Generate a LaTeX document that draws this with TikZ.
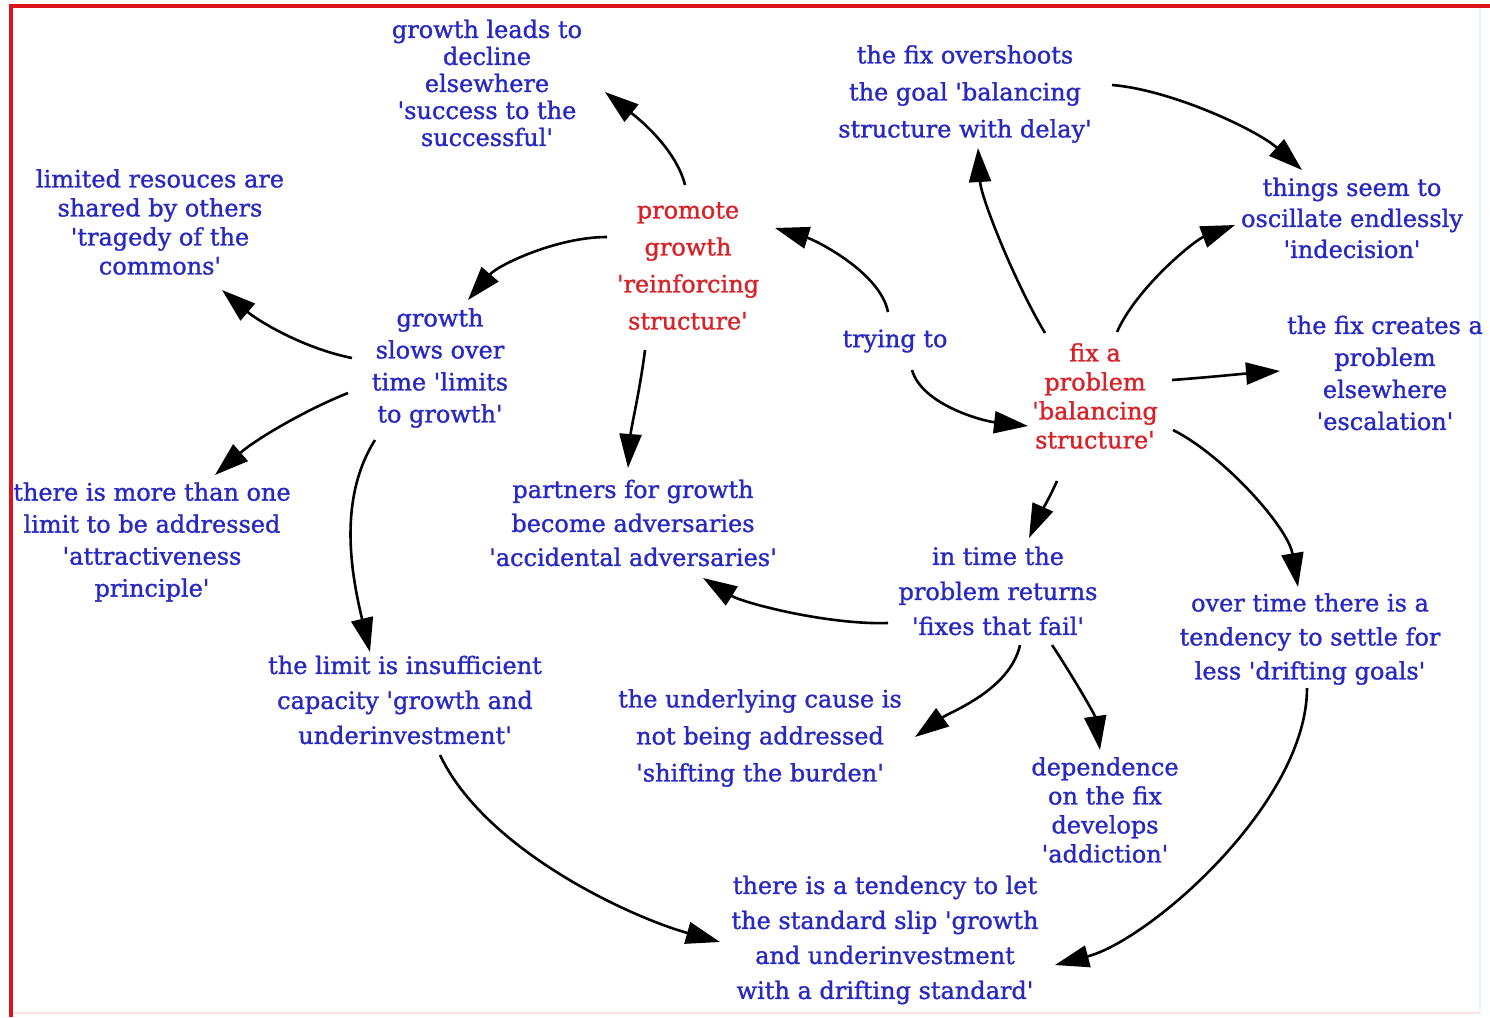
\documentclass[tikz,border=0pt]{standalone}
\usepackage{fontspec}
\setmainfont{DejaVu Serif}[Ligatures=TeXOff]
\newfontfamily\diagfont{DejaVu Serif}[Ligatures=TeXOff, FakeBold=1.2]
\usetikzlibrary{arrows.meta,calc}
\definecolor{txtblue}{RGB}{40,40,195}
\definecolor{txtred}{RGB}{215,35,40}
\definecolor{framered}{RGB}{220,20,30}
\definecolor{faintpink}{RGB}{250,228,225}
\definecolor{faintcyan}{RGB}{232,246,252}
\newcommand\fsz[1]{\diagfont\fontsize{24}{#1}\selectfont}
\tikzset{
  lab/.style={align=center, inner sep=0pt, text=txtblue},
  key/.style={align=center, inner sep=0pt, text=txtred},
  arr/.style={line width=2.6pt, -{Triangle[length=34pt,width=22pt]}},
}
\begin{document}
\begin{tikzpicture}[x=1pt,y=-1pt]
\useasboundingbox (0,0) rectangle (1490,1017);
\fill[white] (0,0) rectangle (1490,1017);
\draw[faintcyan, line width=2pt] (1480,8) -- (1480,1013);
\draw[faintpink, line width=2pt] (13,1013) -- (1480,1013);

% nodes
\node[lab, font=\fsz{27}] (gl) at (487,83) {growth leads to\\decline\\elsewhere\\'success to the\\successful'};
\node[lab, font=\fsz{29}] (lr) at (160,222) {limited resouces are\\shared by others\\'tragedy of the\\commons'};
\node[key, font=\fsz{37}] (pg) at (688,266) {promote\\growth\\'reinforcing\\structure'};
\node[lab, font=\fsz{32}] (gs) at (440,368) {growth\\slows over\\time 'limits\\to growth'};
\node[lab, font=\fsz{32}] (tt) at (895,341) {trying to};
\node[lab, font=\fsz{37}] (fo) at (965,94) {the fix overshoots\\the goal 'balancing\\structure with delay'};
\node[lab, font=\fsz{31}] (ts) at (1352,218) {things seem to\\oscillate endlessly\\'indecision'};
\node[key, font=\fsz{29}] (fp) at (1095,396) {fix a\\problem\\'balancing\\structure'};
\node[lab, font=\fsz{32}] (fc) at (1385,373) {the fix creates a\\problem\\elsewhere\\'escalation'};
\node[lab, font=\fsz{32}] (mo) at (152,542) {there is more than one\\limit to be addressed\\'attractiveness\\principle'};
\node[lab, font=\fsz{34}] (pa) at (633,523) {partners for growth\\become adversaries\\'accidental adversaries'};
\node[lab, font=\fsz{35}] (it) at (998,591) {in time the\\problem returns\\'fixes that fail'};
\node[lab, font=\fsz{34}] (ot) at (1310,639) {over time there is a\\tendency to settle for\\less 'drifting goals'};
\node[lab, font=\fsz{35}] (li) at (405,700) {the limit is insufficient\\capacity 'growth and\\underinvestment'};
\node[lab, font=\fsz{37}] (uc) at (760,738) {the underlying cause is\\not being addressed\\'shifting the burden'};
\node[lab, font=\fsz{29}] (de) at (1105,810) {dependence\\on the fix\\develops\\'addiction'};
\node[lab, font=\fsz{35}] (te) at (885,940) {there is a tendency to let\\the standard slip 'growth\\and underinvestment\\with a drifting standard'};

% connectors
\draw[arr] ($(pg)+(-3,-81)$) .. controls +(-10,-40) and +(25,20) .. ($(gl)+(118,9)$);
\draw[arr] ($(pg)+(-81,-29)$) .. controls +(-50,0) and +(30,-35) .. ($(gs)+(28,-68)$);
\draw[arr] ($(gs)+(-88,-10)$) .. controls +(-50,-10) and +(35,30) .. ($(lr)+(62,68)$);
\draw[arr] ($(gs)+(-92,25)$) .. controls +(-45,18) and +(40,-35) .. ($(mo)+(63,-67)$);
\draw[arr] ($(gs)+(-65,72)$) .. controls +(-38,60) and +(-18,-75) .. ($(li)+(-35,-48)$);
\draw[arr] ($(pg)+(-43,84)$) .. controls +(-5,40) and +(3,-40) .. ($(pa)+(-5,-55)$);
\draw[arr] ($(tt)+(-7,-29)$) .. controls +(-8,-40) and +(40,12) .. ($(pg)+(87,-38)$);
\draw[arr] ($(tt)+(17,29)$) .. controls +(10,35) and +(-45,-5) .. ($(fp)+(-67,30)$);
\draw[arr] ($(fp)+(-50,-63)$) .. controls +(-30,-50) and +(3,50) .. ($(fo)+(13,54)$);
\draw[arr] ($(fo)+(147,-9)$) .. controls +(60,5) and +(-45,-40) .. ($(ts)+(-50,-48)$);
\draw[arr] ($(fp)+(22,-64)$) .. controls +(20,-45) and +(-40,15) .. ($(ts)+(-117,7)$);
\draw[arr] ($(fp)+(77,-16)$) .. controls +(40,-3) and +(-40,3) .. ($(fc)+(-105,-2)$);
\draw[arr] ($(fp)+(78,34)$) .. controls +(50,25) and +(-10,-60) .. ($(ot)+(-12,-52)$);
\draw[arr] ($(fp)+(-38,85)$) .. controls +(-8,18) and +(8,-18) .. ($(it)+(31,-53)$);
\draw[arr] ($(it)+(-110,32)$) .. controls +(-60,2) and +(40,25) .. ($(pa)+(70,55)$);
\draw[arr] ($(it)+(22,54)$) .. controls +(-10,45) and +(35,-25) .. ($(uc)+(155,-1)$);
\draw[arr] ($(it)+(54,54)$) .. controls +(20,30) and +(-5,-35) .. ($(de)+(-5,-60)$);
\draw[arr] ($(li)+(35,55)$) .. controls +(45,95) and +(-90,-25) .. ($(te)+(-165,2)$);
\draw[arr] ($(ot)+(-3,49)$) .. controls +(0,115) and +(95,-25) .. ($(te)+(170,25)$);

% frame
\fill[framered] (9,4) rectangle (1490,8);
\fill[framered] (9,4) rectangle (13,1017);
\end{tikzpicture}
\end{document}
